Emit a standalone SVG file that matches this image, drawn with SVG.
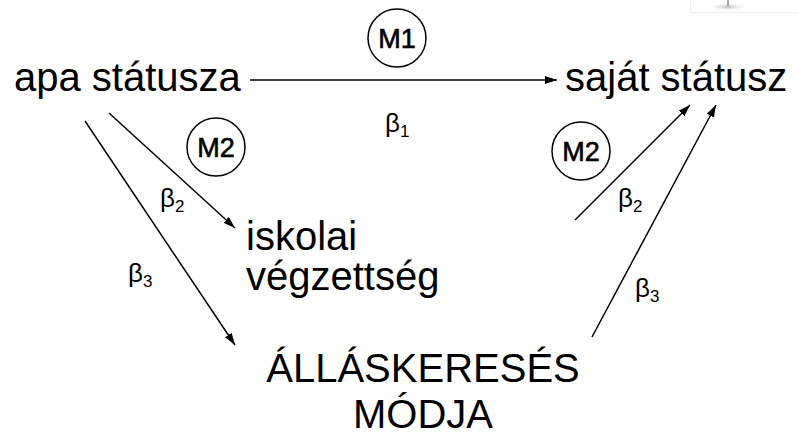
<svg xmlns="http://www.w3.org/2000/svg" width="797" height="435" viewBox="0 0 797 435">
<style>
.node{font-family:"Liberation Sans",Arial,sans-serif;font-size:40px;fill:#000}
.m{font-family:"Liberation Sans",Arial,sans-serif;font-size:27px;fill:#000;stroke:#000;stroke-width:0.6;text-anchor:middle}
.ring{fill:none;stroke:#000;stroke-width:1.5}
.b{font-family:"Liberation Sans",Arial,sans-serif;font-size:26px;fill:#000}
.sub{font-size:17px}
.edge{stroke:#000;stroke-width:1.5;fill:none;marker-end:url(#ah)}
</style>
<defs>
<marker id="ah" viewBox="0 0 12 8" refX="12" refY="4" markerWidth="12" markerHeight="8" markerUnits="userSpaceOnUse" orient="auto">
<path d="M0,0 L12,4 L0,8 z" fill="#000"/>
</marker>
<radialGradient id="sm" cx="0.5" cy="0.5" r="0.5">
<stop offset="0" stop-color="#bbb"/>
<stop offset="1" stop-color="#fff" stop-opacity="0"/>
</radialGradient>
</defs>
<rect width="797" height="435" fill="#fff"/>
<g id="corner">
<path d="M690.5,0 V12.5 H797" fill="none" stroke="#eee" stroke-width="1"/>
<ellipse cx="728" cy="7" rx="22" ry="4" fill="url(#sm)"/>
<line x1="728" y1="0" x2="728" y2="6" stroke="#888" stroke-width="1.5"/>
</g>
<g id="connectors">
<line class="edge" x1="250" y1="80" x2="557" y2="80"/>
<line class="edge" x1="109" y1="113" x2="235" y2="228"/>
<line class="edge" x1="85" y1="121" x2="235" y2="345"/>
<line class="edge" x1="575" y1="220" x2="690" y2="105"/>
<line class="edge" x1="592" y1="337" x2="716" y2="105"/>
</g>
<g id="n-apa"><text class="node" x="14" y="90.5">apa státusza</text></g>
<g id="n-sajat"><text class="node" x="565" y="90.5">saját státusz</text></g>
<g id="n-iskolai"><text class="node" x="246" y="250">iskolai</text><text class="node" x="246" y="290">végzettség</text></g>
<g id="n-allas"><text class="node" x="423" y="382" text-anchor="middle">ÁLLÁSKERESÉS</text><text class="node" x="423" y="428" text-anchor="middle">MÓDJA</text></g>
<g id="m1"><circle class="ring" cx="397" cy="38" r="29"/><text class="m" x="397" y="48">M1</text></g>
<g id="m2-left"><circle class="ring" cx="216" cy="147" r="29"/><text class="m" x="216" y="157">M2</text></g>
<g id="m2-right"><circle class="ring" cx="581" cy="151" r="29"/><text class="m" x="581" y="161">M2</text></g>
<g id="labels">
<text class="b" x="385" y="132">β<tspan class="sub" dy="5">1</tspan></text>
<text class="b" x="160" y="207">β<tspan class="sub" dy="5">2</tspan></text>
<text class="b" x="128" y="282">β<tspan class="sub" dy="5">3</tspan></text>
<text class="b" x="618" y="207">β<tspan class="sub" dy="5">2</tspan></text>
<text class="b" x="635" y="297">β<tspan class="sub" dy="5">3</tspan></text>
</g>
</svg>
